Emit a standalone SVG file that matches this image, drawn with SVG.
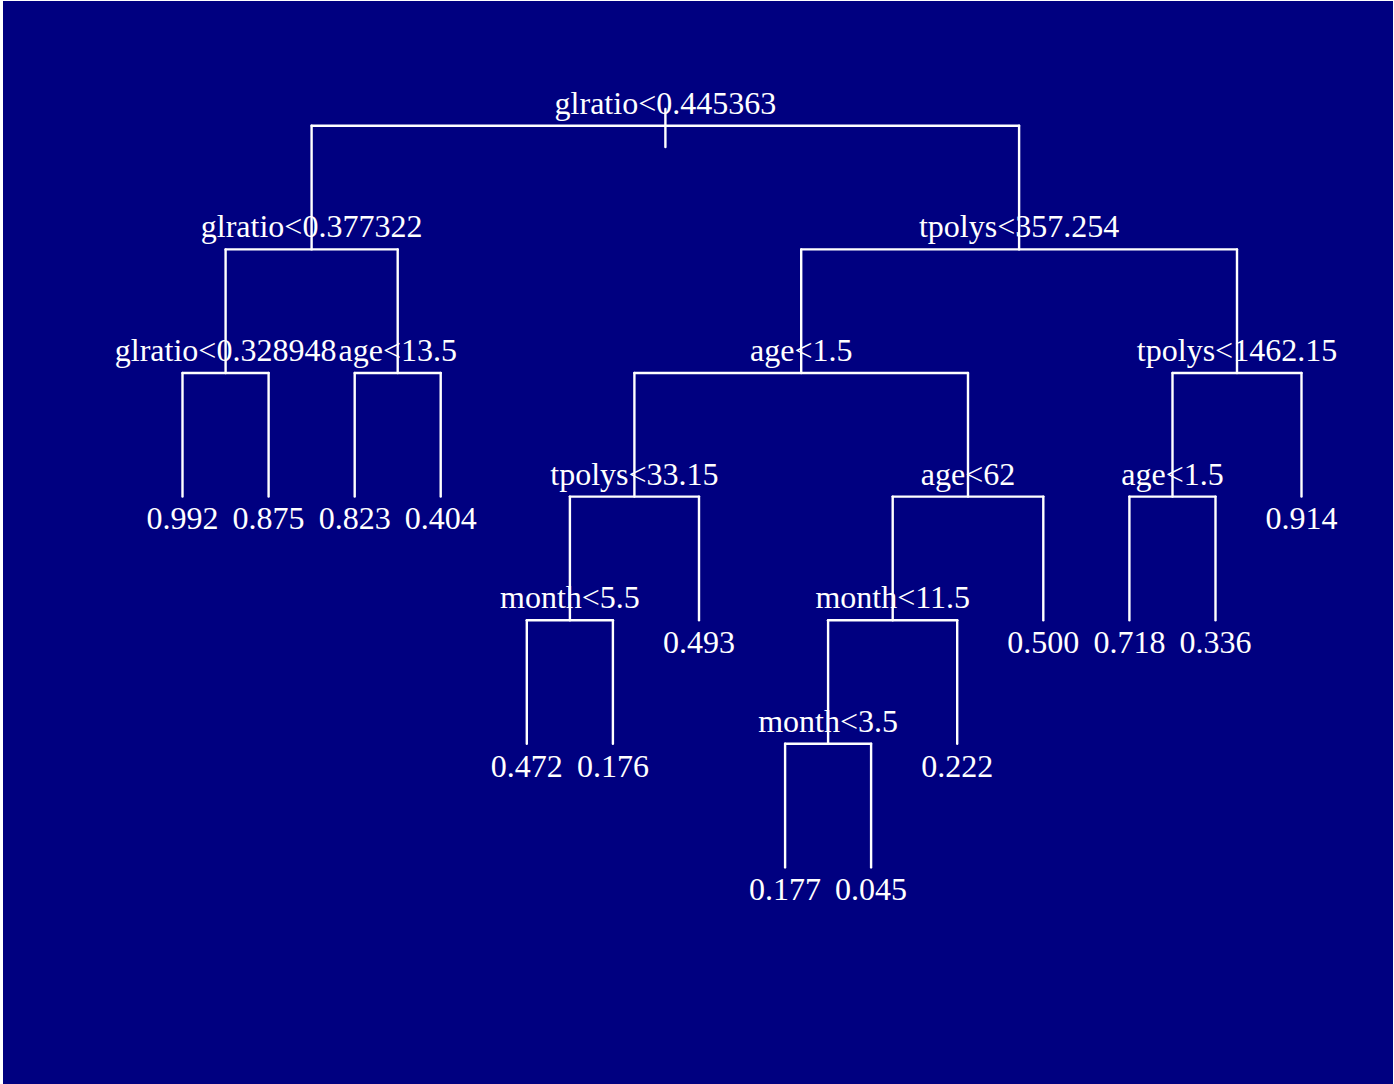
<svg xmlns="http://www.w3.org/2000/svg" width="1394" height="1084" viewBox="0 0 1394 1084">
<style>
text{font-family:"Liberation Serif","Times New Roman",serif;font-size:32px;fill:#ffffff;text-anchor:middle}
.c line{stroke:#ffffff;stroke-width:2.4;stroke-linecap:round}
</style>
<rect x="0" y="0" width="1394" height="1084" fill="#ffffff"/>
<rect x="3" y="1" width="1390" height="1083" fill="#000080"/>
<g id="connectors" class="c">
<line x1="665.4" y1="109" x2="665.4" y2="147"/>
<line x1="311.6" y1="125.8" x2="1019.1" y2="125.8"/>
<line x1="311.6" y1="125.8" x2="311.6" y2="249.4"/>
<line x1="1019.1" y1="125.8" x2="1019.1" y2="249.4"/>
<line x1="225.6" y1="249.4" x2="397.7" y2="249.4"/>
<line x1="801.2" y1="249.4" x2="1237" y2="249.4"/>
<line x1="225.6" y1="249.4" x2="225.6" y2="373"/>
<line x1="397.7" y1="249.4" x2="397.7" y2="373"/>
<line x1="801.2" y1="249.4" x2="801.2" y2="373"/>
<line x1="1237" y1="249.4" x2="1237" y2="373"/>
<line x1="182.5" y1="373" x2="268.6" y2="373"/>
<line x1="354.7" y1="373" x2="440.7" y2="373"/>
<line x1="634.4" y1="373" x2="968" y2="373"/>
<line x1="1172.5" y1="373" x2="1301.5" y2="373"/>
<line x1="182.5" y1="373" x2="182.5" y2="496.6"/>
<line x1="268.6" y1="373" x2="268.6" y2="496.6"/>
<line x1="354.7" y1="373" x2="354.7" y2="496.6"/>
<line x1="440.7" y1="373" x2="440.7" y2="496.6"/>
<line x1="634.4" y1="373" x2="634.4" y2="496.6"/>
<line x1="968" y1="373" x2="968" y2="496.6"/>
<line x1="1172.5" y1="373" x2="1172.5" y2="496.6"/>
<line x1="1301.5" y1="373" x2="1301.5" y2="496.6"/>
<line x1="569.9" y1="496.6" x2="699" y2="496.6"/>
<line x1="892.7" y1="496.6" x2="1043.3" y2="496.6"/>
<line x1="1129.4" y1="496.6" x2="1215.5" y2="496.6"/>
<line x1="569.9" y1="496.6" x2="569.9" y2="620.2"/>
<line x1="699" y1="496.6" x2="699" y2="620.2"/>
<line x1="892.7" y1="496.6" x2="892.7" y2="620.2"/>
<line x1="1043.3" y1="496.6" x2="1043.3" y2="620.2"/>
<line x1="1129.4" y1="496.6" x2="1129.4" y2="620.2"/>
<line x1="1215.5" y1="496.6" x2="1215.5" y2="620.2"/>
<line x1="526.8" y1="620.2" x2="612.9" y2="620.2"/>
<line x1="828.1" y1="620.2" x2="957.2" y2="620.2"/>
<line x1="526.8" y1="620.2" x2="526.8" y2="743.8"/>
<line x1="612.9" y1="620.2" x2="612.9" y2="743.8"/>
<line x1="828.1" y1="620.2" x2="828.1" y2="743.8"/>
<line x1="957.2" y1="620.2" x2="957.2" y2="743.8"/>
<line x1="785.1" y1="743.8" x2="871.1" y2="743.8"/>
<line x1="785.1" y1="743.8" x2="785.1" y2="867.4"/>
<line x1="871.1" y1="743.8" x2="871.1" y2="867.4"/>
</g>
<g id="n-root"><text x="665.4" y="114">glratio&lt;0.445363</text></g>
<g id="n-l"><text x="311.6" y="237.4">glratio&lt;0.377322</text></g>
<g id="n-r"><text x="1019.1" y="237.4">tpolys&lt;357.254</text></g>
<g id="n-ll"><text x="225.6" y="361">glratio&lt;0.328948</text></g>
<g id="n-lr"><text x="397.7" y="361">age&lt;13.5</text></g>
<g id="n-rl"><text x="801.2" y="361">age&lt;1.5</text></g>
<g id="n-rr"><text x="1237" y="361">tpolys&lt;1462.15</text></g>
<g id="n-rll"><text x="634.4" y="484.6">tpolys&lt;33.15</text></g>
<g id="n-rlr"><text x="968" y="484.6">age&lt;62</text></g>
<g id="n-rrl"><text x="1172.5" y="484.6">age&lt;1.5</text></g>
<g id="n-rlll"><text x="569.9" y="608.2">month&lt;5.5</text></g>
<g id="n-rlrl"><text x="892.7" y="608.2">month&lt;11.5</text></g>
<g id="n-rlrll"><text x="828.1" y="731.8">month&lt;3.5</text></g>
<g id="leaf1"><text x="182.5" y="529.4">0.992</text></g>
<g id="leaf2"><text x="268.6" y="529.4">0.875</text></g>
<g id="leaf3"><text x="354.7" y="529.4">0.823</text></g>
<g id="leaf4"><text x="440.7" y="529.4">0.404</text></g>
<g id="leaf5"><text x="526.8" y="776.6">0.472</text></g>
<g id="leaf6"><text x="612.9" y="776.6">0.176</text></g>
<g id="leaf7"><text x="699" y="653">0.493</text></g>
<g id="leaf8"><text x="785.1" y="900.2">0.177</text></g>
<g id="leaf9"><text x="871.1" y="900.2">0.045</text></g>
<g id="leaf10"><text x="957.2" y="776.6">0.222</text></g>
<g id="leaf11"><text x="1043.3" y="653">0.500</text></g>
<g id="leaf12"><text x="1129.4" y="653">0.718</text></g>
<g id="leaf13"><text x="1215.5" y="653">0.336</text></g>
<g id="leaf14"><text x="1301.5" y="529.4">0.914</text></g>
</svg>
